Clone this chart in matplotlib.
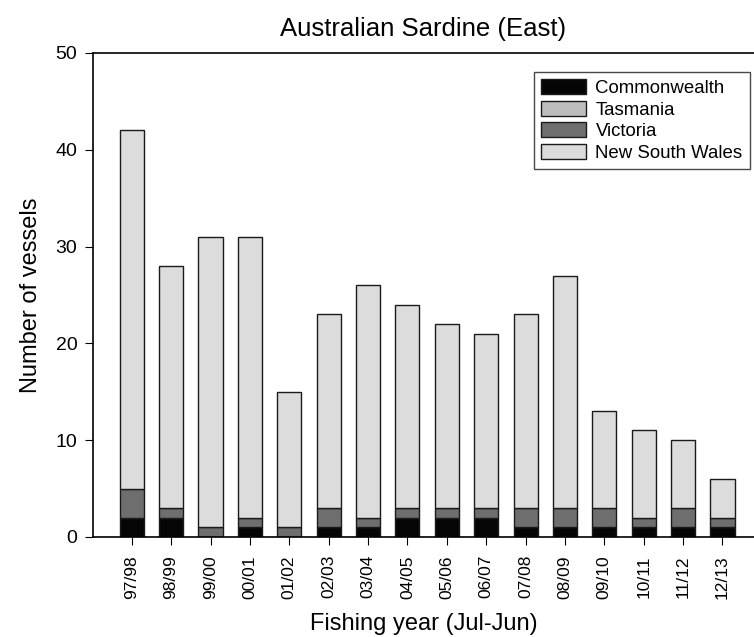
import matplotlib
matplotlib.use("Agg")
import matplotlib.pyplot as plt
import numpy as np

plt.rcParams['font.family'] = ['Liberation Sans', 'DejaVu Sans']

years = ["97/98", "98/99", "99/00", "00/01", "01/02", "02/03", "03/04", "04/05",
         "05/06", "06/07", "07/08", "08/09", "09/10", "10/11", "11/12", "12/13"]
commonwealth = [2, 2, 0, 1, 0, 1, 1, 2, 2, 2, 1, 1, 1, 1, 1, 1]
tasmania = [0] * 16
victoria = [3, 1, 1, 1, 1, 2, 1, 1, 1, 1, 2, 2, 2, 1, 2, 1]
nsw = [37, 25, 30, 29, 14, 20, 24, 21, 19, 18, 20, 24, 10, 9, 7, 4]

series = [
    ("Commonwealth", commonwealth, "#050505"),
    ("Tasmania", tasmania, "#bdbdbd"),
    ("Victoria", victoria, "#6e6e6e"),
    ("New South Wales", nsw, "#dcdcdc"),
]

fig = plt.figure(figsize=(7.54, 6.37), dpi=100)
ax = fig.add_axes([0.123, 0.157, 0.877, 0.760])

x = np.arange(len(years))
bottom = np.zeros(len(years))
for name, vals, col in series:
    ax.bar(x, vals, bottom=bottom, width=0.61, color=col, edgecolor="#1a1a1a",
           linewidth=1.0, label=name)
    bottom += np.array(vals)

ax.set_xlim(-0.99, 15.8)
ax.set_ylim(0, 50)
ax.set_yticks(range(0, 51, 10))
ax.set_xticks(x)
ax.set_xticklabels(years, rotation=90, fontsize=12.5)
ax.tick_params(axis="y", labelsize=14, length=6, direction="out", pad=5)
ax.tick_params(axis="x", length=6, direction="out", pad=7)
ax.spines["right"].set_visible(False)
for s in ["left", "bottom", "top"]:
    ax.spines[s].set_linewidth(1.2)

ax.set_title("Australian Sardine (East)", fontsize=18.5, pad=12)
ax.set_ylabel("Number of vessels", fontsize=17, labelpad=10)
ax.set_xlabel("Fishing year (Jul-Jun)", fontsize=17, labelpad=10)

leg = ax.legend(loc="upper right", bbox_to_anchor=(0.994, 0.961), fontsize=13.4,
                frameon=True, fancybox=False, edgecolor="#1a1a1a",
                handlelength=2.4, handleheight=0.85, labelspacing=0.2,
                borderpad=0.4, handletextpad=0.5, borderaxespad=0)
leg.get_frame().set_linewidth(1.0)

fig.savefig("out.png", dpi=100)
